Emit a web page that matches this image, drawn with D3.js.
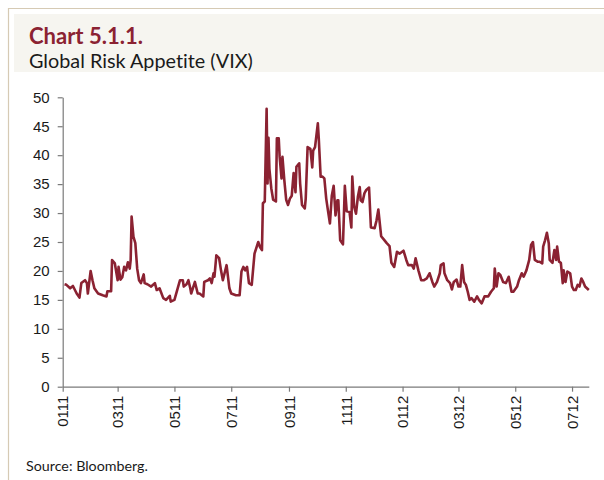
<!DOCTYPE html>
<html>
<head>
<meta charset="utf-8">
<script src="https://cdn.jsdelivr.net/npm/d3@7"></script>
<style>
  body { margin: 0; background: #fff; }
  svg { display: block; }
  text { font-variant-ligatures: none; }
</style>
</head>
<body>
<div id="chart-area"></div>
<script>
// DATA (daily VIX close)
const dates = [
  "2011-01-03","2011-01-05","2011-01-09","2011-01-12","2011-01-16","2011-01-19","2011-01-21","2011-01-25","2011-01-27","2011-01-28",
  "2011-01-31","2011-02-02","2011-02-04","2011-02-08","2011-02-13","2011-02-17","2011-02-18","2011-02-22","2011-02-23","2011-02-26",
  "2011-03-01","2011-03-02","2011-03-04","2011-03-06","2011-03-08","2011-03-10","2011-03-12","2011-03-14","2011-03-15","2011-03-16",
  "2011-03-18","2011-03-20","2011-03-22","2011-03-24","2011-03-26","2011-03-29","2011-03-30","2011-04-02","2011-04-06","2011-04-10",
  "2011-04-12","2011-04-15","2011-04-19","2011-04-22","2011-04-26","2011-04-27","2011-05-01","2011-05-05","2011-05-07","2011-05-10",
  "2011-05-11","2011-05-14","2011-05-16","2011-05-18","2011-05-19","2011-05-23","2011-05-26","2011-05-28","2011-06-01","2011-06-02",
  "2011-06-06","2011-06-08","2011-06-10","2011-06-12","2011-06-13","2011-06-15","2011-06-18","2011-06-20","2011-06-22","2011-06-26",
  "2011-06-29","2011-07-01","2011-07-06","2011-07-10","2011-07-12","2011-07-14","2011-07-16","2011-07-18","2011-07-20","2011-07-23",
  "2011-07-26","2011-07-30","2011-08-01","2011-08-03","2011-08-04","2011-08-06","2011-08-08","2011-08-09","2011-08-10","2011-08-11",
  "2011-08-13","2011-08-15","2011-08-18","2011-08-19","2011-08-21","2011-08-22","2011-08-24","2011-08-25","2011-08-27","2011-08-29",
  "2011-08-31","2011-09-02","2011-09-04","2011-09-06","2011-09-08","2011-09-09","2011-09-12","2011-09-13","2011-09-15","2011-09-18",
  "2011-09-19","2011-09-21","2011-09-24","2011-09-26","2011-09-27","2011-09-29","2011-10-02","2011-10-03","2011-10-05","2011-10-07",
  "2011-10-09","2011-10-11","2011-10-13","2011-10-15","2011-10-17","2011-10-19","2011-10-21","2011-10-23","2011-10-24","2011-10-26",
  "2011-10-29","2011-10-31","2011-11-02","2011-11-05","2011-11-07","2011-11-08","2011-11-10","2011-11-12","2011-11-14","2011-11-16",
  "2011-11-17","2011-11-19","2011-11-21","2011-11-23","2011-11-26","2011-11-28","2011-12-02","2011-12-04","2011-12-06","2011-12-09",
  "2011-12-12","2011-12-15","2011-12-18","2011-12-20","2011-12-23","2011-12-26","2011-12-29","2012-01-02","2012-01-05","2012-01-07",
  "2012-01-11","2012-01-13","2012-01-15","2012-01-18","2012-01-21","2012-01-24","2012-01-27","2012-01-30","2012-02-02","2012-02-04",
  "2012-02-07","2012-02-10","2012-02-11","2012-02-14","2012-02-15","2012-02-18","2012-02-21","2012-02-23","2012-02-25","2012-02-28",
  "2012-03-01","2012-03-03","2012-03-05","2012-03-07","2012-03-09","2012-03-11","2012-03-13","2012-03-15","2012-03-18","2012-03-21",
  "2012-03-23","2012-03-26","2012-03-29","2012-04-02","2012-04-05","2012-04-08","2012-04-09","2012-04-11","2012-04-13","2012-04-15",
  "2012-04-18","2012-04-21","2012-04-24","2012-04-27","2012-04-29","2012-05-03","2012-05-05","2012-05-08","2012-05-10","2012-05-13",
  "2012-05-16","2012-05-18","2012-05-20","2012-05-22","2012-05-25","2012-05-27","2012-05-30","2012-05-31","2012-06-02","2012-06-04",
  "2012-06-06","2012-06-07","2012-06-10","2012-06-12","2012-06-14","2012-06-15","2012-06-17","2012-06-19","2012-06-21","2012-06-22",
  "2012-06-24","2012-06-26","2012-06-29","2012-07-01","2012-07-03","2012-07-05","2012-07-07","2012-07-09","2012-07-11","2012-07-13",
  "2012-07-15","2012-07-17","2012-07-19"
]
const vix = [
  17.7, 17.6, 17.0, 17.4, 16.1, 15.4, 17.9, 18.4, 17.9, 16.1,
  20.0, 18.4, 17.0, 16.1, 15.8, 15.6, 16.5, 16.5, 21.9, 21.3,
  18.4, 20.7, 18.5, 18.9, 20.7, 20.1, 21.5, 20.4, 21.9, 29.4,
  25.9, 24.8, 20.4, 18.4, 17.9, 19.4, 17.9, 17.7, 17.3, 17.9,
  16.7, 17.0, 15.3, 15.0, 15.7, 14.7, 15.0, 17.3, 18.4, 18.4,
  17.3, 17.7, 18.4, 17.0, 16.1, 18.1, 16.1, 16.1, 15.6, 18.1,
  18.4, 18.7, 17.9, 19.6, 19.0, 22.7, 22.2, 20.1, 18.4, 21.0,
  17.0, 16.1, 15.8, 15.8, 19.9, 20.7, 20.1, 20.7, 17.9, 17.6,
  23.0, 25.0, 24.1, 23.6, 31.7, 32.0, 48.0, 35.1, 43.0, 37.6,
  34.3, 32.3, 32.0, 42.9, 42.9, 39.7, 36.0, 39.7, 35.7, 32.3,
  31.4, 32.5, 33.0, 36.9, 33.6, 38.0, 38.6, 35.1, 31.4, 30.8,
  32.5, 41.4, 41.1, 37.9, 40.8, 41.4, 45.5, 42.9, 36.3, 36.3,
  36.0, 32.5, 30.3, 28.2, 33.0, 34.7, 29.6, 32.2, 32.2, 25.3,
  24.6, 34.7, 30.3, 30.2, 27.5, 36.3, 31.1, 29.9, 32.8, 34.5,
  32.2, 31.9, 33.4, 34.0, 34.4, 27.5, 27.4, 28.7, 30.6, 26.0,
  25.4, 24.8, 24.3, 21.4, 20.7, 23.3, 23.0, 23.5, 21.9, 21.0,
  21.0, 20.4, 22.2, 20.1, 18.4, 18.4, 18.7, 19.6, 18.1, 17.3,
  18.1, 19.6, 21.0, 21.3, 19.6, 18.4, 17.9, 16.8, 18.1, 18.5,
  17.3, 17.3, 21.0, 18.1, 17.6, 16.4, 15.0, 15.3, 14.7, 15.6,
  15.0, 14.4, 15.6, 15.6, 16.4, 17.0, 20.4, 17.3, 19.6, 19.3,
  18.1, 17.9, 19.0, 16.4, 16.4, 17.3, 18.4, 19.6, 19.0, 20.1,
  21.9, 24.5, 25.0, 21.9, 21.6, 21.6, 21.3, 24.2, 25.3, 26.6,
  24.8, 21.9, 21.4, 23.6, 21.9, 24.2, 21.6, 21.4, 17.9, 20.1,
  18.1, 19.9, 19.6, 17.3, 16.7, 16.7, 17.6, 17.3, 18.7, 18.1,
  17.3, 17.0, 16.7
]
const yTicks = [0, 5, 10, 15, 20, 25, 30, 35, 40, 45, 50]
const xTickDates = ["2011-01-01","2011-03-01","2011-05-01","2011-07-01","2011-09-01","2011-11-01",
                    "2012-01-01","2012-03-01","2012-05-01","2012-07-01"]
const xTickLabels = ["0111","0311","0511","0711","0911","1111","0112","0312","0512","0712"]

const parse = d3.timeParse("%Y-%m-%d")
const data = dates.map((d, i) => ({ date: parse(d), value: vix[i] }))

const svg = d3.select("#chart-area").append("svg").attr("width", 604).attr("height", 480)

// frame + title band
svg.append("path").attr("d", "M8.5,480V8.5H604").attr("fill", "none").attr("stroke", "#d6cab4").attr("stroke-width", 1.2)
svg.append("rect").attr("x", 14).attr("y", 14).attr("width", 590).attr("height", 58).attr("fill", "#f6f5f0")

const titleFont = "'Lato', 'Open Sans', sans-serif"

// shrink/grow the font so the text spans the same width as in the picture
function fitWidth(sel, target) {
  const size = parseFloat(sel.style("font-size"))
  const w = sel.node().getComputedTextLength()
  sel.style("font-size", (size * target / w).toFixed(2) + "px")
}

const title = svg.append("text").attr("x", 29).attr("y", 43.5)
  .style("font-family", titleFont).style("font-weight", "bold").style("font-size", "21px")
  .attr("fill", "#8b2232").text("Chart 5.1.1.")
fitWidth(title, 114)
const subtitle = svg.append("text").attr("x", 29).attr("y", 67.5)
  .style("font-family", titleFont).style("font-size", "18px")
  .attr("fill", "#1a1a1a").text("Global Risk Appetite (VIX)")
fitWidth(subtitle, 224)

// scales
const x = d3.scaleTime().domain([parse("2011-01-01"), parse("2012-07-19")]).range([62.7, 588.8])
const y = d3.scaleLinear().domain([0, 50]).range([386.7, 97.3])

const axisFont = "'Liberation Sans', Arial, sans-serif"

svg.append("g").attr("transform", "translate(62.7,0)")
  .call(d3.axisLeft(y).tickValues(yTicks).tickSize(5).tickSizeOuter(0).tickPadding(8))
const xAxis = svg.append("g").attr("transform", "translate(0,386.7)")
  .call(d3.axisBottom(x).tickValues(xTickDates.map(parse)).tickFormat((d, i) => xTickLabels[i])
    .tickSize(5).tickSizeOuter(0))

xAxis.selectAll("text")
  .attr("transform", "rotate(-90)")
  .attr("text-anchor", "end")
  .attr("x", -9).attr("y", 0).attr("dy", "0.35em")

svg.selectAll(".domain, .tick line").attr("stroke", "#7a7a7a").attr("stroke-width", 1.2)
svg.selectAll(".tick text").attr("fill", "#1a1a1a")
  .style("font-family", axisFont).style("font-size", "15px")

// line
const line = d3.line().x(d => x(d.date)).y(d => y(d.value))
svg.append("path").datum(data)
  .attr("d", line)
  .attr("fill", "none")
  .attr("stroke", "#8b2232")
  .attr("stroke-width", 2.6)
  .attr("stroke-linejoin", "round")

const source = svg.append("text").attr("x", 26).attr("y", 471)
  .style("font-family", titleFont).style("font-size", "13px")
  .attr("fill", "#1a1a1a").text("Source: Bloomberg.")
fitWidth(source, 122)
</script>
</body>
</html>
